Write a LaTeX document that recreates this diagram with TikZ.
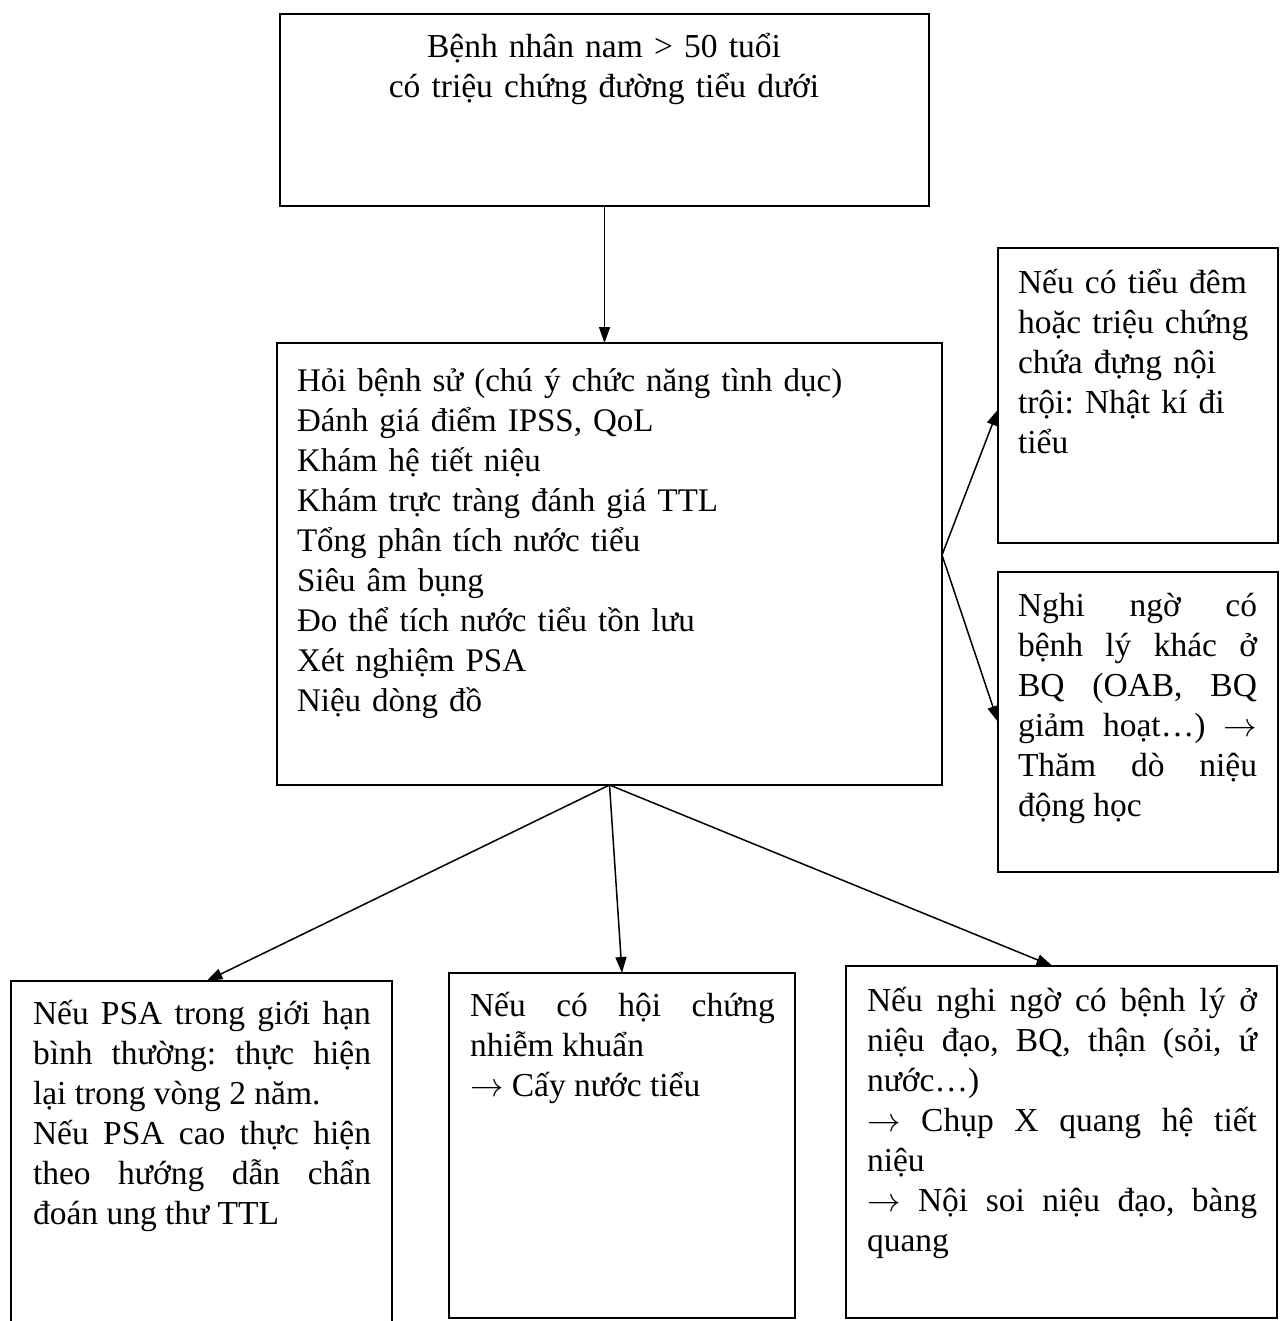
\RequirePackage{fix-cm}
\documentclass[tikz,border=0pt]{standalone}
\usepackage{fontspec}
\setmainfont{Liberation Serif}
\usetikzlibrary{arrows.meta,calc}
\newcommand\fl{\rule{0pt}{34bp}}
\newcommand\ra{$\rightarrow$}
\frenchspacing
\begin{document}
\begin{tikzpicture}[x=1bp,y=-1bp,
  box/.style={draw, line width=2.4bp, inner sep=0pt, outer sep=0pt, anchor=north west},
  conn/.style={line width=1.5bp, -{Triangle[length=16bp,width=11bp]}},
  txt/.style={inner sep=0pt, outer sep=0pt, font=\fontsize{33.5bp}{40bp}\selectfont\frenchspacing},
  jtxt/.style={txt, anchor=north west, align=justify},
  ltxt/.style={txt, anchor=north west, align=left},
]
\useasboundingbox (0,0) rectangle (1284,1321);
% boxes
\node[box, minimum width=649bp, minimum height=192bp] (top) at (280,14) {};
\node[box, minimum width=665bp, minimum height=442bp] (mid) at (277,343) {};
\node[box, minimum width=280bp, minimum height=295bp] (rt) at (998,248) {};
\node[box, minimum width=280bp, minimum height=300bp] (rb) at (998,572) {};
\node[box, minimum width=381bp, minimum height=360bp] (bl) at (11,981) {};
\node[box, minimum width=346bp, minimum height=345bp] (bm) at (449,973) {};
\node[box, minimum width=431bp, minimum height=352bp] (br) at (846,966) {};
% texts
\node[txt, anchor=north, align=center, text width=640bp] (ttop) at (604,24)
  {\fl Bệnh nhân nam > 50 tuổi\\ có triệu chứng đường tiểu dưới};
\node[ltxt, text width=640bp, font=\fontsize{33bp}{40bp}\selectfont\frenchspacing] (tmid) at (297,357)
  {\fl Hỏi bệnh sử (chú ý chức năng tình dục)\\
   Đánh giá điểm IPSS, QoL\\
   Khám hệ tiết niệu\\
   Khám trực tràng đánh giá TTL\\
   Tổng phân tích nước tiểu\\
   Siêu âm bụng\\
   Đo thể tích nước tiểu tồn lưu\\
   Xét nghiệm PSA\\
   Niệu dòng đồ};
\node[ltxt, text width=255bp] (trt) at (1018,259)
  {\fl Nếu có tiểu đêm\\ hoặc triệu chứng\\ chứa đựng nội\\ trội: Nhật kí đi\\ tiểu};
\node[jtxt, text width=239bp] (trb) at (1018,582)
  {\fl Nghi ngờ có\linebreak bệnh lý khác ở\linebreak BQ (OAB, BQ\linebreak giảm hoạt…) \ra\linebreak Thăm dò niệu\linebreak động học};
\node[jtxt, text width=338bp] (tbl) at (33,990)
  {\fl Nếu PSA trong giới hạn\linebreak bình thường: thực hiện\linebreak lại trong vòng 2 năm.\\ Nếu PSA cao thực hiện\linebreak theo hướng dẫn chẩn\linebreak đoán ung thư TTL};
\node[jtxt, text width=305bp] (tbm) at (470,982)
  {\fl Nếu có hội chứng\linebreak nhiễm khuẩn\\ \ra{} Cấy nước tiểu};
\node[jtxt, text width=390bp] (tbr) at (867,977)
  {\fl Nếu nghi ngờ có bệnh lý ở\linebreak niệu đạo, BQ, thận (sỏi, ứ\linebreak nước…)\\ \ra{} Chụp X quang hệ tiết\linebreak niệu\\ \ra{} Nội soi niệu đạo, bàng\linebreak quang};
% connectors
\draw[conn] (top.south) -- (top.south |- mid.north);
\draw[conn] ([yshift=9bp]mid.east) -- ([yshift=-14bp]rt.west);
\draw[conn] ([yshift=9bp]mid.east) -- (rb.west);
\draw[conn] (mid.south) -- ([xshift=5bp]bl.north);
\draw[conn] (mid.south) -- (bm.north);
\draw[conn] (mid.south) -- ([xshift=-9bp]br.north);
\end{tikzpicture}
\end{document}
